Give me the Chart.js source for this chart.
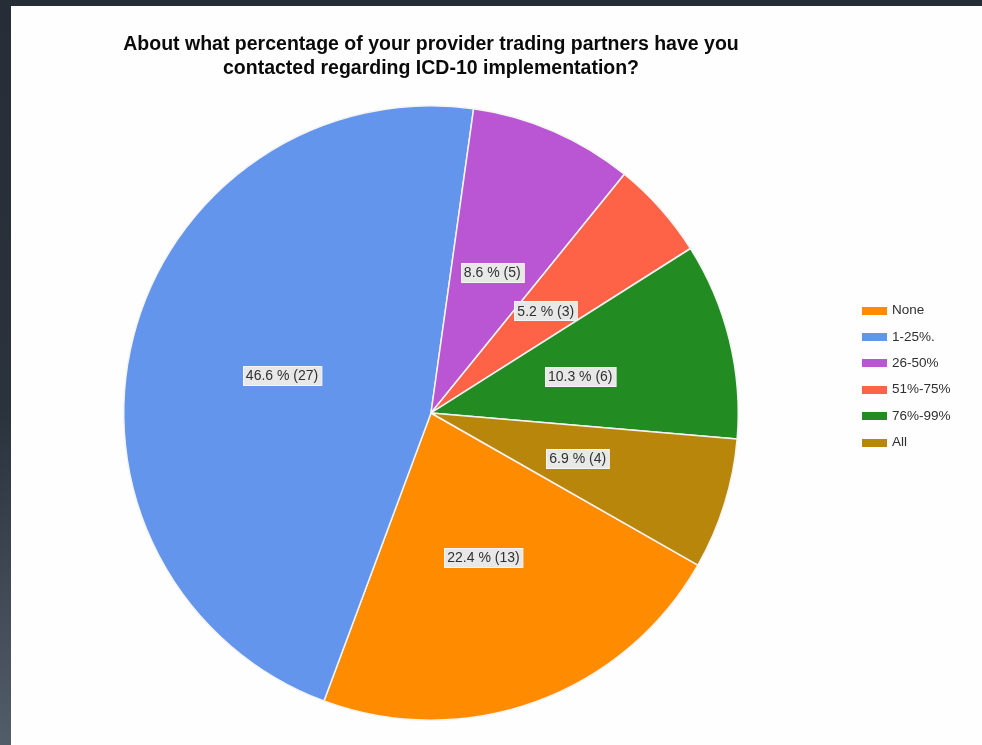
<!DOCTYPE html>
<html>
<head>
<meta charset="utf-8">
<script src="https://cdn.jsdelivr.net/npm/chart.js@4"></script>
<style>
  html, body { margin: 0; padding: 0; }
  body {
    width: 982px; height: 745px; overflow: hidden;
    background: linear-gradient(to bottom, #262d37 0%, #2a323c 55%, #535d69 100%);
    position: relative;
  }
  .panel {
    position: absolute; left: 11px; top: 6px;
    width: 971px; height: 739px; background: #fefefe;
  }
</style>
</head>
<body>
<div class="panel">
  <canvas id="pieChart" width="971" height="739"></canvas>
</div>
<script>
// survey answers
const categories = ['None', '1-25%.', '26-50%', '51%-75%', '76%-99%', 'All'];
const responses = [13, 27, 5, 3, 6, 4];
const sliceColors = ['#FF8C00', '#6495ED', '#BA55D3', '#FF6347', '#228B22', '#B8860B'];
const titleLines = [
  'About what percentage of your provider trading partners have you',
  'contacted regarding ICD-10 implementation?'
];

// "46.6 % (27)" boxes in the middle of each slice
const sliceLabels = {
  id: 'sliceLabels',
  afterDatasetsDraw(chart) {
    const ctx = chart.ctx;
    const data = chart.data.datasets[0].data;
    const total = data.reduce((a, b) => a + b, 0);
    ctx.save();
    ctx.font = '14px "Liberation Sans", Arial, sans-serif';
    ctx.textBaseline = 'middle';
    ctx.textAlign = 'center';
    chart.getDatasetMeta(0).data.forEach((arc, i) => {
      const pos = arc.tooltipPosition();
      const text = (data[i] / total * 100).toFixed(1) + ' % (' + data[i] + ')';
      const w = ctx.measureText(text).width + 6;
      const h = 19;
      const x = Math.round(pos.x - w / 2) + 0.5;
      const y = Math.round(pos.y - h / 2) + 0.5;
      ctx.fillStyle = '#e8e8e8';
      ctx.fillRect(x, y, w, h);
      ctx.strokeStyle = '#f6f6f6';
      ctx.lineWidth = 1;
      ctx.strokeRect(x, y, w, h);
      ctx.fillStyle = '#303030';
      ctx.fillText(text, pos.x, pos.y + 1);
    });
    ctx.restore();
  }
};

// legend on the right, one swatch per category
const sideLegend = {
  id: 'sideLegend',
  afterDraw(chart) {
    const ctx = chart.ctx;
    const colors = chart.data.datasets[0].backgroundColor;
    ctx.save();
    ctx.font = '13.5px "Liberation Sans", Arial, sans-serif';
    ctx.textBaseline = 'middle';
    ctx.textAlign = 'left';
    chart.data.labels.forEach((label, i) => {
      const cy = 304.5 + i * 26.4;
      ctx.fillStyle = colors[i];
      ctx.fillRect(851, Math.round(cy - 4), 25, 8);
      ctx.fillStyle = '#303030';
      ctx.fillText(label, 881, cy);
    });
    ctx.restore();
  }
};

new Chart(document.getElementById('pieChart'), {
  type: 'pie',
  data: {
    labels: categories,
    datasets: [{
      data: responses,
      backgroundColor: sliceColors,
      borderColor: '#f4f4f4',
      borderWidth: 1.5
    }]
  },
  options: {
    responsive: false,
    animation: false,
    rotation: 119.7,
    layout: { padding: { left: 112, right: 243, top: 0, bottom: 24 } },
    plugins: {
      legend: { display: false },
      tooltip: { enabled: false },
      title: {
        display: true,
        fullSize: false,
        text: titleLines,
        color: '#0a0a0a',
        font: { family: '"Liberation Sans", Arial, sans-serif', size: 19.5, weight: 'bold', lineHeight: 1.23 },
        padding: { top: 27, bottom: 24 }
      }
    }
  },
  plugins: [sliceLabels, sideLegend]
});
</script>
</body>
</html>
